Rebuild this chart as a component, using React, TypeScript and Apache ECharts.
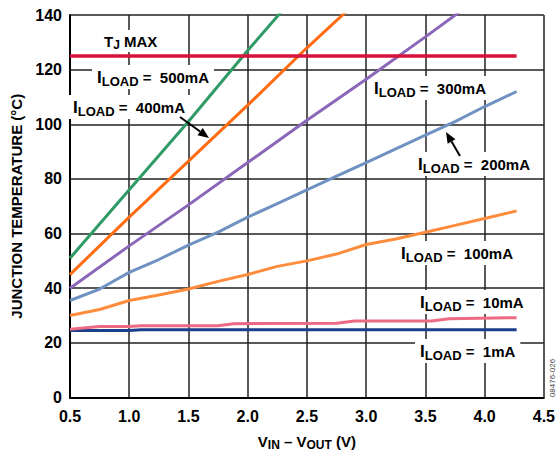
import React, { useEffect, useRef } from "react";
import * as echarts from "echarts";

// V_IN - V_OUT (V) sample positions and junction temperature (°C) per load current
const vin500 = [0.5, 1.0, 1.5, 2.0, 2.3];
const tj500 = [51, 76, 101, 127, 142];

const vin400 = [0.5, 1.0, 1.5, 2.0, 2.5, 2.85];
const tj400 = [45, 66, 86.5, 107, 128, 142];

const vin300 = [0.5, 1.0, 1.5, 2.0, 2.5, 3.0, 3.5, 3.8];
const tj300 = [40, 55.5, 70.5, 86, 101.5, 116.5, 132, 141.5];

const vin200 = [0.5, 0.75, 1.0, 1.25, 1.5, 1.75, 2.0, 2.25, 2.5, 2.75, 3.0, 3.25, 3.5, 3.75, 4.0, 4.27];
const tj200 = [35.5, 39.7, 45.8, 50.5, 55.8, 60.5, 66, 71, 76, 81, 86, 91, 96, 101, 106.5, 112];

const vin100 = [0.5, 0.75, 1.0, 1.25, 1.5, 1.75, 2.0, 2.25, 2.5, 2.75, 3.0, 3.25, 3.5, 3.75, 4.0, 4.27];
const tj100 = [30, 32.2, 35.5, 37.5, 39.7, 42.5, 45, 48, 50, 52.5, 56, 58, 60.5, 63, 65.5, 68.3];

const vin10 = [0.5, 0.75, 1.0, 1.1, 1.75, 1.88, 2.75, 2.9, 3.55, 3.7, 4.27];
const tj10 = [25, 26, 26, 26.3, 26.3, 27, 27.2, 28, 28, 28.8, 29.2];

const vin1 = [0.5, 1.0, 1.1, 4.27];
const tj1 = [24.5, 24.5, 24.8, 24.8];

const vinTjMax = [0.5, 4.27];
const tjMax = [125, 125];

const loadLabels = ["500mA", "400mA", "300mA", "200mA", "100mA", "10mA", "1mA"];

const FONT = "'Liberation Sans', Arial, Helvetica, sans-serif";

const zip = (xs: number[], ys: number[]) => xs.map((x, i) => [x, ys[i]]);

function lineSeries(name: string, xs: number[], ys: number[], color: string, width = 3) {
  return {
    name,
    type: "line",
    data: zip(xs, ys),
    showSymbol: false,
    symbol: "none",
    smooth: false,
    clip: true,
    lineStyle: { color, width },
    z: 3,
  };
}

function loadLabel(value: string, x: number, y: number) {
  return {
    type: "text",
    x,
    y,
    z: 1,
    style: {
      text: `{i|I}{s|LOAD}{n| =  ${value}}`,
      fill: "#000",
      fontFamily: FONT,
      fontWeight: "bold",
      align: "left",
      verticalAlign: "middle",
      backgroundColor: "#fff",
      padding: [1, 5, 1, 5],
      rich: {
        i: { fontSize: 17, fontWeight: "bold", fontFamily: FONT, fill: "#000", lineHeight: 22 },
        s: { fontSize: 13, fontWeight: "bold", fontFamily: FONT, fill: "#000", lineHeight: 14, padding: [8, 0, 0, 0] },
        n: { fontSize: 15, fontWeight: "bold", fontFamily: FONT, fill: "#000", lineHeight: 22 },
      },
    },
  };
}

function arrow(x1: number, y1: number, x2: number, y2: number) {
  const ang = Math.atan2(y2 - y1, x2 - x1);
  const len = 11;
  const half = 4.5;
  const bx = x2 - len * Math.cos(ang);
  const by = y2 - len * Math.sin(ang);
  const px = -Math.sin(ang);
  const py = Math.cos(ang);
  return [
    {
      type: "line",
      z: 5,
      shape: { x1, y1, x2: bx, y2: by },
      style: { stroke: "#000", lineWidth: 2 },
    },
    {
      type: "polygon",
      z: 5,
      shape: {
        points: [
          [x2, y2],
          [bx + px * half, by + py * half],
          [bx - px * half, by - py * half],
        ],
      },
      style: { fill: "#000" },
    },
  ];
}

export default function App() {
  const ref = useRef<HTMLDivElement>(null);

  useEffect(() => {
    if (!ref.current) return;
    const chart = echarts.init(ref.current, undefined, { renderer: "svg" });

    const axisLabelStyle = {
      color: "#000",
      fontSize: 16,
      fontWeight: "bold",
      fontFamily: FONT,
    };

    chart.setOption({
      animation: false,
      backgroundColor: "#fff",
      grid: { left: 70, right: 10, top: 15, bottom: 57, containLabel: false },
      xAxis: {
        type: "value",
        min: 0.5,
        max: 4.5,
        interval: 0.5,
        name: "V{sub|IN} – V{sub|OUT} (V)",
        nameLocation: "middle",
        nameGap: 36,
        nameTextStyle: {
          color: "#000",
          fontSize: 15,
          fontWeight: "bold",
          fontFamily: FONT,
          rich: {
            sub: { fontSize: 12, fontWeight: "bold", fontFamily: FONT, color: "#000", lineHeight: 12, padding: [8, 0, 0, 0] },
          },
        },
        axisLine: { show: true, lineStyle: { color: "#000", width: 2 } },
        axisTick: { show: false },
        axisLabel: {
          ...axisLabelStyle,
          margin: 11,
          formatter: (v: number) => v.toFixed(1),
        },
        splitLine: { show: true, lineStyle: { color: "#222", width: 1.5 } },
      },
      yAxis: {
        type: "value",
        min: 0,
        max: 140,
        interval: 20,
        name: "JUNCTION TEMPERATURE (°C)",
        nameLocation: "middle",
        nameRotate: 90,
        nameGap: 45,
        nameTextStyle: {
          color: "#000",
          fontSize: 15,
          fontWeight: "bold",
          fontFamily: FONT,
        },
        axisLine: { show: true, lineStyle: { color: "#000", width: 2 } },
        axisTick: { show: false },
        axisLabel: { ...axisLabelStyle, margin: 8 },
        splitLine: { show: true, lineStyle: { color: "#222", width: 1.5 } },
      },
      series: [
        lineSeries("1mA", vin1, tj1, "#1b3f8b"),
        lineSeries("10mA", vin10, tj10, "#ec6a84"),
        lineSeries("100mA", vin100, tj100, "#ff8c3c"),
        lineSeries("200mA", vin200, tj200, "#7092c2"),
        lineSeries("300mA", vin300, tj300, "#8b67b8"),
        lineSeries("400mA", vin400, tj400, "#ff6c12"),
        lineSeries("500mA", vin500, tj500, "#2e9a66"),
        lineSeries("TJ MAX", vinTjMax, tjMax, "#d8113d", 3.5),
      ],
      graphic: [
        {
          type: "text",
          x: 100,
          y: 41,
          z: 1,
          style: {
            text: "{t|T}{j|J}{t| MAX}",
            fill: "#000",
            fontFamily: FONT,
            fontWeight: "bold",
            align: "left",
            verticalAlign: "middle",
            backgroundColor: "#fff",
            padding: [1, 4, 1, 4],
            rich: {
              t: { fontSize: 15, fontWeight: "bold", fontFamily: FONT, fill: "#000", lineHeight: 20 },
              j: { fontSize: 12, fontWeight: "bold", fontFamily: FONT, fill: "#000", lineHeight: 12, padding: [8, 0, 0, 0] },
            },
          },
        },
        loadLabel(loadLabels[0], 92, 77),
        loadLabel(loadLabels[1], 68, 107),
        loadLabel(loadLabels[2], 369, 88),
        loadLabel(loadLabels[3], 413, 164),
        loadLabel(loadLabels[4], 396, 253),
        loadLabel(loadLabels[5], 415, 302),
        loadLabel(loadLabels[6], 415, 351),
        ...arrow(180, 117, 209, 138),
        ...arrow(460, 156, 446, 132),
        {
          type: "text",
          x: 552,
          y: 378,
          rotation: Math.PI / 2,
          z: 1,
          style: {
            text: "08476-026",
            fill: "#444",
            fontSize: 8,
            fontFamily: FONT,
            align: "center",
            verticalAlign: "middle",
          },
        },
      ],
    });

    return () => chart.dispose();
  }, []);

  return (
    <div
      ref={ref}
      style={{ position: "absolute", left: 0, top: 0, width: 558, height: 456 }}
    />
  );
}
